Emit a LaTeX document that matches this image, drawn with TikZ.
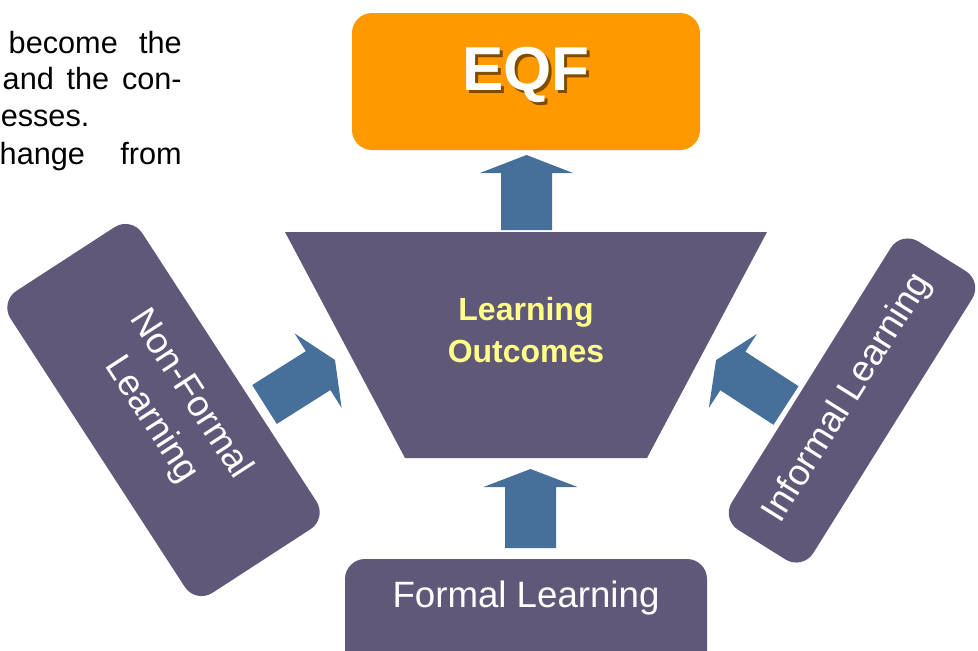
\documentclass[tikz,border=0pt]{standalone}
\usepackage{fontspec}
\setmainfont{Liberation Sans}
\definecolor{boxpurple}{RGB}{96,88,121}
\definecolor{arrowblue}{RGB}{70,112,153}
\definecolor{eqforange}{RGB}{255,153,0}
\definecolor{loyellow}{RGB}{255,255,136}
\definecolor{eqfshadow}{RGB}{128,77,0}
% block arrow: #1 x, #2 y (back centre), #3 angle, #4 total length, #5 head length, #6 shaft half width, #7 head half width
\newcommand\myblockarrow[7]{%
  \begin{scope}[shift={(#1,#2)},rotate=#3]
    \fill[arrowblue] (0,-#6) -- ({#4-#5},-#6) -- ({#4-#5},-#7) -- (#4,0) -- ({#4-#5},#7) -- ({#4-#5},#6) -- (0,#6) -- cycle;
  \end{scope}}
\begin{document}
\begin{tikzpicture}[x=0.75pt,y=0.75pt,
  purplebox/.style={fill=boxpurple, draw=none, rounded corners=15pt, inner sep=0pt},
  boxtext/.style={text=white, font=\fontsize{27.5}{35}\selectfont, align=center, inner sep=0pt},
  bodytext/.style={inner sep=0pt, font=\fontsize{23}{27}\selectfont, text=black}]
\useasboundingbox (0,0) rectangle (978,-650);
\clip (0,0) rectangle (978,-650);

% paragraph fragment (cut at the left edge)
\node[bodytext, anchor=base east] (p1) at (182,-53) {\hbox to 129.75pt{become\hfill the}};
\node[bodytext, anchor=base east] (p2) at (182,-89) {\hbox to 134.25pt{and\hfill the\hfill con-}};
\node[bodytext, anchor=base west] (p3) at (0.5,-126) {esses.};
\node[bodytext, anchor=base east] (p4) at (182,-164) {\hbox to 136.5pt{hange\hfill from}};

% EQF box
\node[fill=eqforange, draw=none, rounded corners=15pt, minimum width=261pt, minimum height=102.75pt, inner sep=0pt] (eqf) at (526,-81.5) {};
\node[inner sep=0pt, anchor=base, text=eqfshadow, font=\fontsize{46.5}{50}\selectfont\bfseries] (eqfshadowtext) at (529,-93) {EQF};
\node[inner sep=0pt, anchor=base, text=white, font=\fontsize{46.5}{50}\selectfont\bfseries] (eqftext) at (526,-90) {EQF};

% Learning outcomes trapezoid
\coordinate (lotl) at (285,-232);
\coordinate (lotr) at (767,-232);
\coordinate (lobr) at (647,-458);
\coordinate (lobl) at (405,-458);
\fill[boxpurple] (lotl) -- (lotr) -- (lobr) -- (lobl) -- cycle;
\node[inner sep=0pt, align=center, text=loyellow, font=\fontsize{24}{31.5}\selectfont\bfseries] (lo) at (526,-329.6) {Learning\\Outcomes};

% side boxes
\node[purplebox, minimum width=270pt, minimum height=117.75pt, rotate=-57] (nonformal) at (163.5,-410) {};
\node[boxtext, rotate=-57] (nonformaltext) at (170.5,-407) {Non-Formal\\Learning};
\node[purplebox, minimum width=255pt, minimum height=72pt, rotate=58] (informal) at (852,-400.5) {};
\node[boxtext, rotate=58] (informaltext) at (848,-398) {Informal Learning};

% formal box (runs off the bottom edge)
\fill[boxpurple, rounded corners=15pt] (345,-559) rectangle (707,-700);
\node[inner sep=0pt, anchor=base, text=white, font=\fontsize{27.5}{33}\selectfont] (formal) at (526,-607) {Formal Learning};

% block arrows
\myblockarrow{526.5}{-230}{90}{75}{18}{25.5}{46.5}
\myblockarrow{530.5}{-548}{90}{79}{18}{25.5}{47}
\myblockarrow{264.5}{-404.5}{32.3}{83.4}{20}{23}{44}
\myblockarrow{786}{-405.5}{147}{83.4}{20}{23}{44}
\end{tikzpicture}
\end{document}
